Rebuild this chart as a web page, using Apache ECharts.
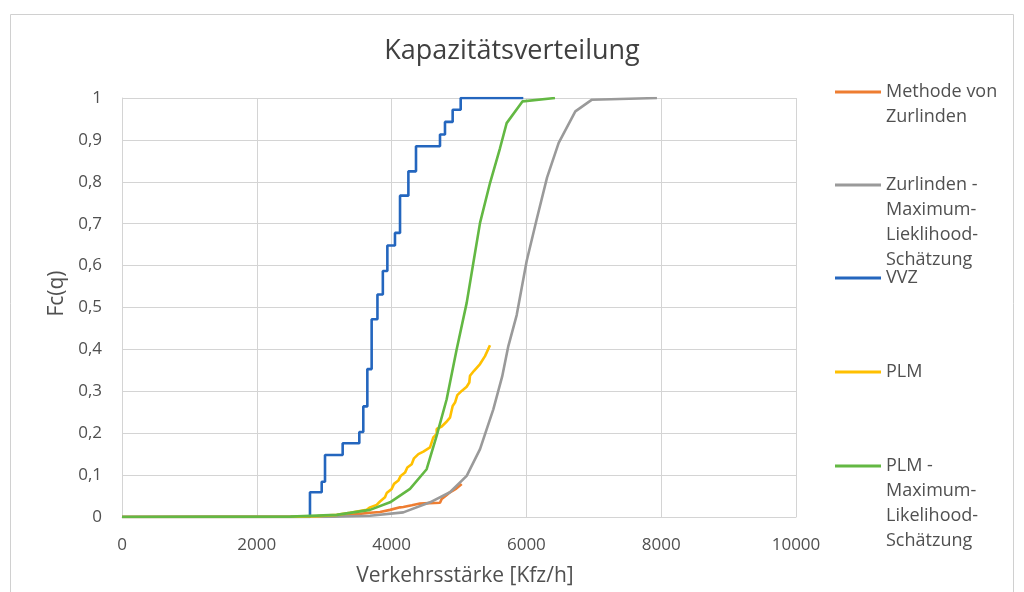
<!DOCTYPE html>
<html>
<head>
<meta charset="utf-8">
<script src="https://cdn.jsdelivr.net/npm/echarts@6/dist/echarts.min.js"></script>
<style>
html,body{margin:0;padding:0;background:#fff;}
#c{width:1024px;height:592px;}
</style>
</head>
<body>
<div id="c"></div>
<script>
// ---- data ----
const xTicks = [0, 2000, 4000, 6000, 8000, 10000];
const yTicks = [0, 0.1, 0.2, 0.3, 0.4, 0.5, 0.6, 0.7, 0.8, 0.9, 1];

const seriesNames = [
  'Methode von Zurlinden',
  'Zurlinden - Maximum-Lieklihood-Schätzung',
  'VVZ',
  'PLM',
  'PLM - Maximum-Likelihood-Schätzung'
];
const legendLines = [
  ['Methode von', 'Zurlinden'],
  ['Zurlinden -', 'Maximum-', 'Lieklihood-', 'Schätzung'],
  ['VVZ'],
  ['PLM'],
  ['PLM -', 'Maximum-', 'Likelihood-', 'Schätzung']
];

const zurlinden = [
  [0,0],[3000,0.001],[3383,0.005],[3680,0.010],[3828,0.012],[3977,0.017],[4125,0.023],
  [4174,0.024],[4300,0.028],[4421,0.032],[4560,0.033],[4718,0.034],[4743,0.043],
  [4800,0.050],[4866,0.059],[4960,0.068],[5040,0.079]
];
const zurlindenML = [
  [0,0],[3000,0],[3680,0.003],[4174,0.011],[4570,0.035],[4866,0.059],[5114,0.098],
  [5312,0.162],[5509,0.257],[5640,0.335],[5732,0.408],[5856,0.482],[6004,0.611],
  [6152,0.710],[6306,0.810],[6479,0.893],[6726,0.968],[6973,0.996],[7937,1.0]
];
const vvz = [
  [0,0],[2789,0.059],[2963,0.084],[3012,0.148],[3274,0.176],[3521,0.203],[3580,0.264],
  [3640,0.353],[3704,0.472],[3790,0.531],[3870,0.587],[3937,0.648],[4050,0.678],
  [4125,0.767],[4249,0.825],[4362,0.885],[4718,0.913],[4792,0.943],[4906,0.972],
  [5025,1.0],[5954,1.0]
];
const plm = [
  [0,0],[2500,0],[2900,0.002],[3185,0.005],[3383,0.010],[3630,0.017],[3680,0.023],
  [3778,0.029],[3828,0.037],[3902,0.047],[3927,0.057],[4001,0.067],[4036,0.079],
  [4100,0.087],[4135,0.098],[4199,0.106],[4233,0.118],[4298,0.126],[4332,0.140],
  [4397,0.150],[4471,0.156],[4570,0.166],[4619,0.190],[4669,0.198],[4669,0.210],
  [4743,0.216],[4807,0.226],[4866,0.237],[4906,0.265],[4941,0.273],[4975,0.291],
  [5040,0.301],[5114,0.311],[5153,0.321],[5163,0.337],[5223,0.349],[5312,0.365],
  [5386,0.384],[5460,0.410]
];
const plmML = [
  [0,0],[2500,0.001],[3185,0.005],[3680,0.017],[3977,0.035],[4273,0.067],[4520,0.114],
  [4669,0.194],[4817,0.281],[4965,0.400],[5114,0.511],[5213,0.607],[5312,0.702],
  [5460,0.797],[5608,0.880],[5707,0.940],[5944,0.992],[6424,1.0]
];
const seriesData = [zurlinden, zurlindenML, vvz, plm, plmML];
const colors = ['#EE7D31', '#9A9A9A', '#2466BE', '#FFC000', '#63B843'];
const legendIconY = [92, 185, 278, 372, 466];

// ---- chart ----
const FONT = 'Open Sans';
const LH = 25;
const chart = echarts.init(document.getElementById('c'));

const legends = seriesNames.map((name, i) => {
  const n = legendLines[i].length;
  // leading blank lines so that the icon sits beside the first text line
  const txt = '\n'.repeat(n - 1) + legendLines[i].join('\n');
  return {
    data: [name],
    orient: 'vertical',
    left: 835,
    top: legendIconY[i] - (n - 0.5) * LH,
    padding: 0,
    icon: 'rect',
    itemWidth: 46,
    itemHeight: 3,
    selectedMode: false,
    formatter: () => txt,
    textStyle: { fontFamily: FONT, fontSize: 18, color: '#505050', lineHeight: LH }
  };
});

const fmtY = v => String(+v.toFixed(1)).replace('.', ',');
const fmtX = v => String(v);

chart.setOption({
  animation: false,
  backgroundColor: '#fff',
  color: colors,
  title: {
    text: 'Kapazitätsverteilung',
    left: 'center',
    top: 33,
    textStyle: { fontFamily: FONT, fontSize: 27, fontWeight: 'normal', color: '#404040' }
  },
  legend: legends,
  grid: { left: 122, right: 228, top: 98, bottom: 74 },
  xAxis: {
    type: 'value',
    min: xTicks[0], max: xTicks[xTicks.length - 1],
    interval: xTicks[1] - xTicks[0],
    name: 'Verkehrsstärke [Kfz/h]',
    nameLocation: 'middle',
    nameGap: 49,
    nameTextStyle: { fontFamily: FONT, fontSize: 21, color: '#505050', padding: [0, 0, 0, 12] },
    axisLine: { show: true, lineStyle: { color: '#d4d4d4', width: 1 } },
    axisTick: { show: false },
    axisLabel: { fontFamily: FONT, fontSize: 17, color: '#505050', margin: 20, formatter: fmtX },
    splitLine: { show: true, lineStyle: { color: '#d4d4d4', width: 1 } }
  },
  yAxis: {
    type: 'value',
    min: yTicks[0], max: yTicks[yTicks.length - 1],
    interval: 0.1,
    name: 'Fc(q)',
    nameLocation: 'middle',
    nameGap: 52,
    nameTextStyle: { fontFamily: FONT, fontSize: 21, color: '#505050', padding: [0, 0, 0, 28] },
    axisLine: { show: true, lineStyle: { color: '#d4d4d4', width: 1 } },
    axisTick: { show: false },
    axisLabel: { fontFamily: FONT, fontSize: 17, color: '#505050', margin: 20, formatter: fmtY },
    splitLine: { show: true, lineStyle: { color: '#d4d4d4', width: 1 } }
  },
  graphic: [{
    type: 'rect', silent: true, z: -1,
    shape: { x: 10.5, y: 14.5, width: 1003, height: 600 },
    style: { fill: 'none', stroke: '#d0d0d0', lineWidth: 1 }
  }],
  series: seriesNames.map((name, i) => ({
    name: name,
    type: 'line',
    data: seriesData[i],
    showSymbol: false,
    symbol: 'none',
    step: name === 'VVZ' ? 'end' : false,
    lineStyle: { width: 2.6, color: colors[i] },
    itemStyle: { color: colors[i] }
  }))
});
</script>
</body>
</html>
